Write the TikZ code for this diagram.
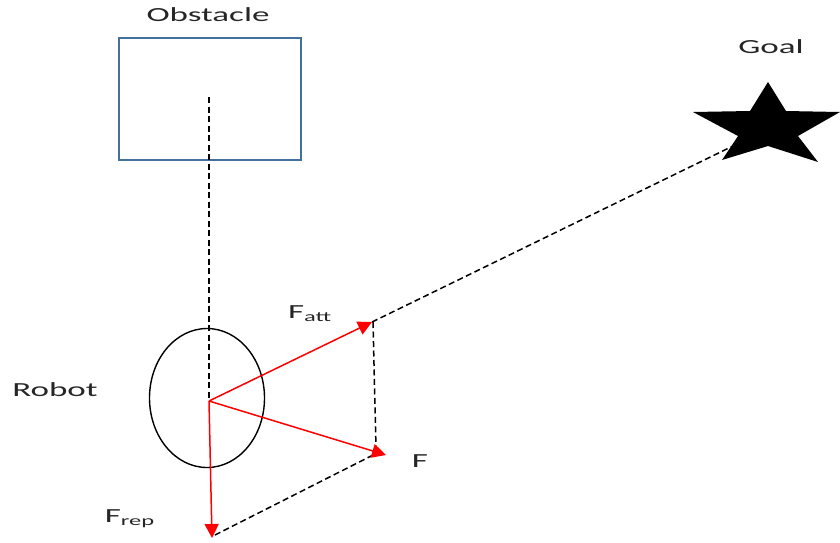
\documentclass[tikz,border=0pt]{standalone}
\usepackage{fontspec}
\setmainfont{Carlito}
\usetikzlibrary{arrows.meta,shapes.geometric}
\newcommand{\wide}[1]{\scalebox{1.75}[1]{#1}}
\begin{document}
\begin{tikzpicture}[x=1pt,y=-1pt,
  lbl/.style={font=\fontsize{20}{24}\selectfont, text=black!85, inner sep=0pt},
  guide/.style={draw=black, line width=1.5pt, dash pattern=on 6pt off 3.5pt},
  force/.style={draw=red, line width=1.5pt, -{Triangle[width=14pt,length=14pt]}}]
\useasboundingbox (0,0) rectangle (840,542);
% obstacle
\node[draw={rgb,255:red,65;green,113;blue,156}, line width=1.3pt, minimum width=182pt, minimum height=122pt, inner sep=0pt] (obs) at (210,99) {};
\node[lbl] (obslbl) at (208,15) {\wide{Obstacle}};
\coordinate (obsc) at (209,97);
% robot
\node[draw, ellipse, line width=1.4pt, minimum width=115pt, minimum height=139pt, inner sep=0pt] (rob) at (207,398) {};
\coordinate (rc) at (209,401);
\node[lbl] (roblbl) at (55,390) {\wide{Robot}};
% goal star
\coordinate (g) at (767,124);
\fill[black] (768,82) -- (786,111) -- (840,112) -- (798,136) -- (818,162) -- (768,146) -- (722,160) -- (738,136) -- (693,112) -- (750,111) -- cycle;
\node[lbl] (goallbl) at (771,47) {\wide{Goal}};
% force endpoints
\coordinate (fa) at (372,322);
\coordinate (ff) at (386,455);
\coordinate (fr) at (212,538);
% guides
\draw[guide] (obsc) -- (rc);
\draw[guide] (fa) -- (735,145);
\draw[guide] (373,322) -- (376,448);
\draw[guide] (215,535) -- (379,452);
% forces
\draw[force] (rc) -- (fa);
\draw[force] (rc) -- (ff);
\draw[force] (rc) -- (fr);
\node[lbl] (fattlbl) at (310,314) {\wide{F\textsubscript{att}}};
\node[lbl] (flbl) at (420,461) {\wide{F}};
\node[lbl] (freplbl) at (130,519) {\wide{F\textsubscript{rep}}};
\end{tikzpicture}
\end{document}
